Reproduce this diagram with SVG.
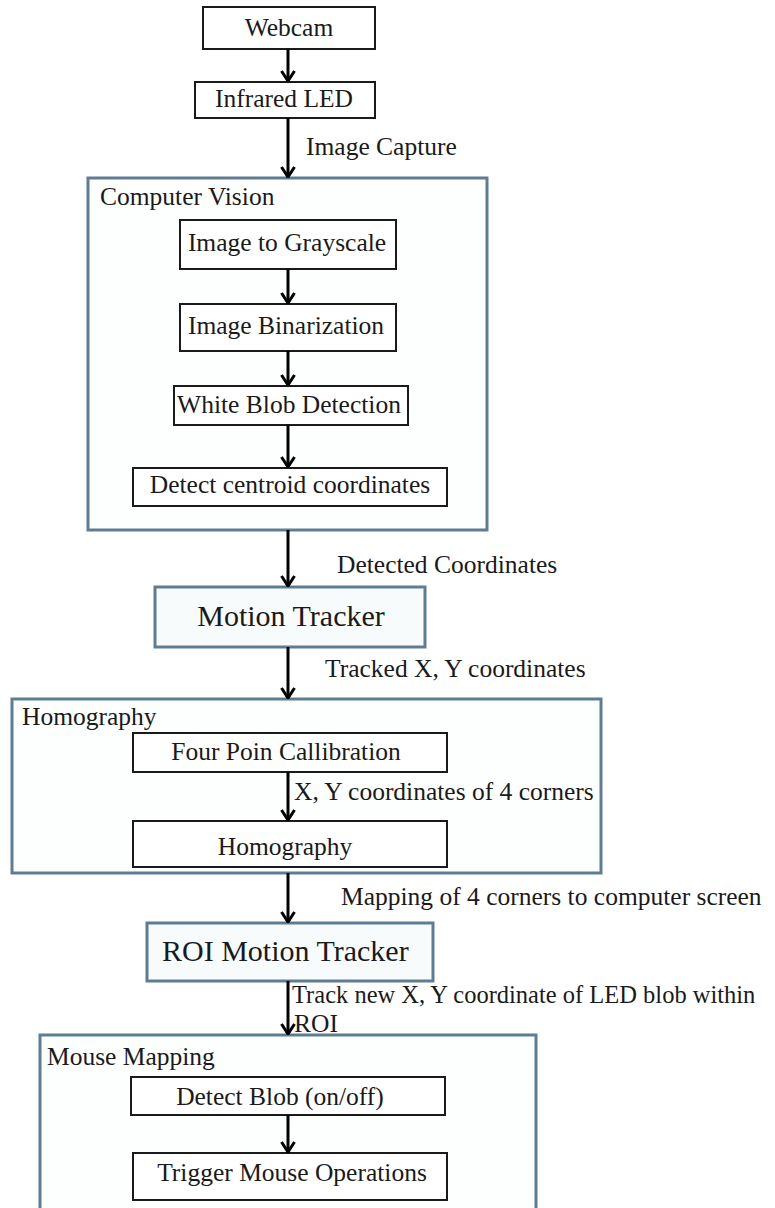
<svg xmlns="http://www.w3.org/2000/svg" width="775" height="1208" viewBox="0 0 775 1208">
<defs>
<style>
text{font-family:"Liberation Serif","Times New Roman",serif;fill:#1a1a1a;font-size:25.5px}
.big{font-size:30px}
.box{fill:#ffffff;stroke:#1a1a1a;stroke-width:2}
.grp{fill:#fdfefe;stroke:#5f7d92;stroke-width:3}
.blue{fill:#f8fbfc;stroke:#5f7d92;stroke-width:3}
.c{text-anchor:middle}
#conn line{stroke:#000;stroke-width:3}
</style>
<marker id="ah" viewBox="0 0 16 16" refX="15" refY="8" markerWidth="16" markerHeight="16" markerUnits="userSpaceOnUse" orient="auto">
<path d="M5,1.5 L15,8 L5,14.5" fill="none" stroke="#000" stroke-width="3"/>
</marker>
</defs>
<rect width="775" height="1208" fill="#ffffff"/>

<g id="computer-vision">
<rect class="grp" x="88" y="178" width="399" height="352"/>
<text x="100" y="205">Computer Vision</text>
</g>
<g id="homography-group">
<rect class="grp" x="12" y="699" width="589" height="174"/>
<text x="22" y="725">Homography</text>
</g>
<g id="mouse-mapping">
<rect class="grp" x="40" y="1035" width="496" height="190"/>
<text x="47" y="1065">Mouse Mapping</text>
</g>

<g id="webcam">
<rect class="box" x="203" y="7" width="172" height="42"/>
<text class="c" x="289" y="36">Webcam</text>
</g>
<g id="infrared-led">
<rect class="box" x="195" y="82" width="180" height="36"/>
<text class="c" x="284" y="107">Infrared LED</text>
</g>
<g id="image-to-grayscale">
<rect class="box" x="180" y="220" width="216" height="49"/>
<text class="c" x="287" y="251">Image to Grayscale</text>
</g>
<g id="image-binarization">
<rect class="box" x="180" y="304" width="216" height="47"/>
<text class="c" x="286" y="334">Image Binarization</text>
</g>
<g id="white-blob-detection">
<rect class="box" x="174" y="386" width="234" height="39"/>
<text class="c" x="289" y="413">White Blob Detection</text>
</g>
<g id="detect-centroid">
<rect class="box" x="133" y="468" width="314" height="38"/>
<text class="c" x="290" y="493">Detect centroid coordinates</text>
</g>
<g id="motion-tracker">
<rect class="blue" x="155" y="587" width="270" height="60"/>
<text class="c big" x="291" y="626">Motion Tracker</text>
</g>
<g id="four-point-calibration">
<rect class="box" x="133" y="733" width="314" height="39"/>
<text class="c" x="286" y="760">Four Poin Callibration</text>
</g>
<g id="homography">
<rect class="box" x="133" y="821" width="314" height="46"/>
<text class="c" x="285" y="855">Homography</text>
</g>
<g id="roi-motion-tracker">
<rect class="blue" x="147" y="923" width="286" height="58"/>
<text class="big" x="162" y="961">ROI Motion Tracker</text>
</g>
<g id="detect-blob">
<rect class="box" x="131" y="1077" width="314" height="38"/>
<text class="c" x="280" y="1105">Detect Blob (on/off)</text>
</g>
<g id="trigger-mouse">
<rect class="box" x="133" y="1153" width="314" height="47"/>
<text class="c" x="292" y="1181">Trigger Mouse Operations</text>
</g>

<g id="conn">
<line x1="288" y1="49" x2="288" y2="81" marker-end="url(#ah)"/>
<line x1="288" y1="118" x2="288" y2="177" marker-end="url(#ah)"/>
<line x1="288" y1="269" x2="288" y2="303" marker-end="url(#ah)"/>
<line x1="288" y1="351" x2="288" y2="385" marker-end="url(#ah)"/>
<line x1="288" y1="425" x2="288" y2="467" marker-end="url(#ah)"/>
<line x1="288" y1="530" x2="288" y2="586" marker-end="url(#ah)"/>
<line x1="288" y1="647" x2="288" y2="698" marker-end="url(#ah)"/>
<line x1="288" y1="772" x2="288" y2="820" marker-end="url(#ah)"/>
<line x1="288" y1="873" x2="288" y2="922" marker-end="url(#ah)"/>
<line x1="288" y1="981" x2="288" y2="1034" marker-end="url(#ah)"/>
<line x1="288" y1="1115" x2="288" y2="1152" marker-end="url(#ah)"/>
<text x="306" y="155">Image Capture</text>
<text x="337" y="573">Detected Coordinates</text>
<text x="325" y="677">Tracked X, Y coordinates</text>
<text x="294" y="800">X, Y coordinates of 4 corners</text>
<text x="341" y="905">Mapping of 4 corners to computer screen</text>
<text x="292" y="1003" style="font-size:24.5px">Track new X, Y coordinate of LED blob within</text>
<text x="294" y="1032">ROI</text>
</g>
</svg>
